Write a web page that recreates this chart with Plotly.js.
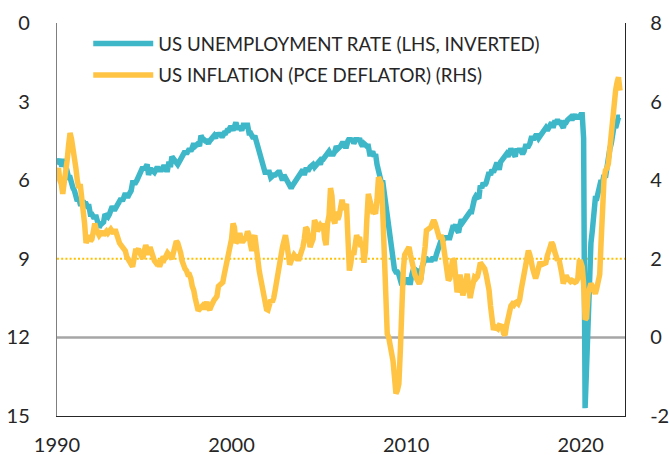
<!DOCTYPE html>
<html>
<head>
<meta charset="utf-8">
<script src="https://cdn.plot.ly/plotly-3.0.1.min.js"></script>
<style>
html,body{margin:0;padding:0;background:#fff;}
#chart{width:669px;height:455px;}
</style>
</head>
<body>
<div id="chart"></div>
<script>
// Monthly data, Jan 1990 .. Apr 2022
const startYear = 1990;
const seriesNames = ["US UNEMPLOYMENT RATE (LHS, INVERTED)", "US INFLATION (PCE DEFLATOR) (RHS)"];
const xTickLabels = ["1990", "2000", "2010", "2020"];
const leftTicks = [0, 3, 6, 9, 12, 15];
const rightTicks = [-2, 0, 2, 4, 6, 8];
const rightTickText = ["-2", "0", "2", "4", "6", "8"];

const unemployment = [
  5.4,5.3,5.2,5.4,5.4,5.2,5.5,5.7,5.9,5.9,6.2,6.3,
  6.4,6.6,6.8,6.7,6.9,6.9,6.8,6.9,6.9,7.0,7.0,7.3,
  7.3,7.4,7.4,7.4,7.6,7.8,7.7,7.6,7.6,7.3,7.4,7.4,
  7.3,7.1,7.0,7.1,7.1,7.0,6.9,6.8,6.7,6.8,6.6,6.5,
  6.6,6.6,6.5,6.4,6.1,6.1,6.1,6.0,5.9,5.8,5.6,5.5,
  5.6,5.4,5.4,5.8,5.6,5.6,5.7,5.7,5.6,5.5,5.6,5.6,
  5.6,5.5,5.5,5.6,5.6,5.3,5.5,5.1,5.2,5.2,5.4,5.4,
  5.3,5.2,5.2,5.1,4.9,5.0,4.9,4.8,4.9,4.7,4.6,4.7,
  4.6,4.6,4.7,4.3,4.4,4.5,4.5,4.5,4.6,4.5,4.4,4.4,
  4.3,4.4,4.2,4.3,4.2,4.3,4.3,4.2,4.2,4.1,4.1,4.0,
  4.0,4.1,4.0,3.8,4.0,4.0,4.0,4.1,3.9,3.9,3.9,3.9,
  4.2,4.2,4.3,4.4,4.3,4.5,4.6,4.9,5.0,5.3,5.5,5.7,
  5.7,5.7,5.7,5.9,5.8,5.8,5.8,5.7,5.7,5.7,5.9,6.0,
  5.8,5.9,5.9,6.0,6.1,6.3,6.2,6.1,6.1,6.0,5.8,5.7,
  5.7,5.6,5.8,5.6,5.6,5.6,5.5,5.4,5.4,5.5,5.4,5.4,
  5.3,5.4,5.2,5.2,5.1,5.0,5.0,4.9,5.0,5.0,5.0,4.9,
  4.7,4.8,4.7,4.7,4.6,4.6,4.7,4.7,4.5,4.4,4.5,4.4,
  4.6,4.5,4.4,4.5,4.4,4.6,4.7,4.6,4.7,4.7,4.7,5.0,
  5.0,4.9,5.1,5.0,5.4,5.6,5.8,6.1,6.1,6.5,6.8,7.3,
  7.8,8.3,8.7,9.0,9.4,9.5,9.5,9.6,9.8,10.0,9.9,9.9,
  9.8,9.8,9.9,9.9,9.6,9.4,9.4,9.5,9.5,9.4,9.8,9.3,
  9.1,9.0,9.0,9.1,9.0,9.1,9.0,9.0,9.0,8.8,8.6,8.5,
  8.3,8.3,8.2,8.2,8.2,8.2,8.2,8.0,7.8,7.8,7.7,7.9,
  8.0,7.7,7.5,7.6,7.5,7.5,7.3,7.2,7.2,7.2,6.9,6.7,
  6.6,6.7,6.7,6.2,6.3,6.1,6.2,6.1,5.9,5.7,5.8,5.6,
  5.7,5.5,5.4,5.4,5.6,5.3,5.2,5.1,5.0,5.0,5.1,5.0,
  4.8,4.9,5.0,5.1,4.8,4.9,4.8,4.9,5.0,4.9,4.7,4.7,
  4.7,4.6,4.4,4.4,4.4,4.3,4.3,4.4,4.3,4.2,4.2,4.1,
  4.0,4.1,4.0,4.0,3.8,4.0,3.8,3.8,3.7,3.8,3.8,3.9,
  4.0,3.8,3.8,3.7,3.6,3.6,3.7,3.6,3.5,3.6,3.6,3.6,
  3.5,3.5,4.4,14.7,13.2,11.0,10.2,8.4,7.9,6.9,6.7,6.7,
  6.4,6.2,6.0,6.1,5.8,5.9,5.4,5.2,4.8,4.6,4.2,3.9,
  4.0,3.8,3.6,3.6
];

const pceInflation = [
  4.2,4.3,4.0,3.9,3.65,3.9,4.1,4.5,4.9,5.2,5.05,4.85,
  4.6,4.3,4.0,3.8,3.9,3.6,3.3,2.9,2.4,2.5,2.6,2.45,
  2.5,2.7,2.9,2.75,2.65,2.6,2.65,2.7,2.6,2.65,2.7,2.65,
  2.7,2.75,2.7,2.65,2.75,2.6,2.5,2.4,2.35,2.3,2.25,2.2,
  2.05,2.0,1.95,1.85,1.8,2.0,2.2,2.2,2.25,2.15,2.05,2.0,
  2.2,2.35,2.25,2.1,2.3,2.15,2.0,1.95,1.9,1.95,1.85,1.85,
  1.95,2.05,2.0,2.1,2.15,2.1,2.05,2.0,2.15,2.3,2.45,2.4,
  2.3,2.15,1.95,1.8,1.75,1.7,1.6,1.6,1.5,1.3,1.2,1.0,
  0.8,0.68,0.72,0.75,0.8,0.72,0.85,0.9,0.75,0.7,0.8,0.9,
  0.95,1.0,1.05,1.3,1.35,1.35,1.4,1.6,1.8,1.9,2.05,2.3,
  2.5,2.9,2.8,2.4,2.45,2.6,2.6,2.4,2.55,2.5,2.55,2.7,
  2.6,2.35,2.2,2.5,2.6,2.3,1.75,1.7,1.5,1.25,1.0,0.8,
  0.72,0.7,0.85,0.95,0.9,1.0,1.2,1.45,1.6,1.8,2.0,2.3,
  2.45,2.6,2.4,1.9,1.85,1.95,2.0,2.1,2.05,2.1,1.95,2.05,
  2.2,2.3,2.5,2.8,2.75,2.55,2.3,2.4,2.5,2.98,2.9,2.7,
  2.75,2.85,2.8,2.9,2.5,2.35,2.9,3.1,3.8,3.6,3.0,2.9,
  3.2,3.0,3.1,3.4,3.5,3.3,3.3,3.4,2.4,1.7,1.9,2.2,
  2.1,2.5,2.6,2.5,2.55,2.3,2.4,1.9,2.2,3.0,3.65,3.5,
  3.3,3.2,3.2,3.15,3.5,4.08,4.0,3.9,3.1,1.8,0.6,0.09,
  0.0,-0.16,-0.3,-0.6,-1.0,-1.43,-1.35,-1.18,-0.33,1.2,1.7,2.1,
  2.2,2.3,2.3,2.1,1.9,1.7,1.6,1.5,1.4,1.37,1.45,1.7,
  1.9,2.3,2.72,2.75,2.8,2.8,2.9,2.98,2.9,2.7,2.64,2.5,
  2.6,2.5,2.2,2.0,1.7,1.45,1.5,1.75,2.0,1.95,1.5,1.15,
  1.3,1.6,1.35,1.07,1.2,1.4,1.62,1.3,1.0,1.2,1.5,1.53,
  1.5,1.55,1.7,1.9,1.85,1.8,1.75,1.6,1.4,1.2,0.8,0.3,
  0.19,0.27,0.25,0.22,0.3,0.3,0.28,0.1,0.06,0.3,0.5,0.77,
  0.8,0.85,0.82,0.88,0.9,0.86,0.95,1.2,1.45,1.6,1.79,1.95,
  2.21,2.1,1.79,1.75,1.62,1.5,1.62,1.75,1.92,1.85,1.87,1.9,
  1.9,2.08,2.15,2.3,2.42,2.35,2.2,2.1,1.96,2.0,1.85,1.62,
  1.37,1.45,1.58,1.5,1.45,1.42,1.45,1.41,1.4,1.42,1.5,1.92,
  1.92,1.8,1.37,0.45,0.5,1.1,1.25,1.37,1.3,1.15,1.11,1.25,
  1.45,1.6,2.4,3.5,4.0,4.25,4.3,4.42,4.8,5.4,5.8,6.1,
  6.3,6.5,6.62,6.28
];

function monthDates(n) {
  const out = [];
  for (let i = 0; i < n; i++) {
    const y = startYear + Math.floor(i / 12);
    const m = (i % 12) + 1;
    out.push(y + "-" + (m < 10 ? "0" + m : m) + "-01");
  }
  return out;
}
const dates = monthDates(unemployment.length);

const TEAL = "#3EB8C9";
const GOLD = "#FFC444";
const FONT = "Lato, 'Open Sans', sans-serif";

const traces = [
  {x: dates, y: unemployment, yaxis: "y", type: "scatter", mode: "lines",
   name: seriesNames[0], legendgroup: "a", line: {color: TEAL, width: 5.5}},
  {x: dates, y: pceInflation, yaxis: "y2", type: "scatter", mode: "lines",
   name: seriesNames[1], legendgroup: "b", line: {color: GOLD, width: 5.5}}
];

const layout = {
  width: 669, height: 455,
  margin: {l: 57, r: 44, t: 23, b: 39, pad: 0},
  paper_bgcolor: "#fff", plot_bgcolor: "#fff",
  font: {family: FONT, size: 20, color: "#262626"},
  showlegend: true,
  legend: {x: 0.055, y: 0.995, xanchor: "left", yanchor: "top",
           bgcolor: "rgba(0,0,0,0)", font: {family: FONT, size: 18.7, color: "#262626"},
           itemwidth: 60, traceorder: "grouped", tracegroupgap: 4},
  xaxis: {type: "date", range: ["1990-01-01", "2022-07-15"],
          tickvals: xTickLabels.map(s => s + "-01-01"), ticktext: xTickLabels,
          ticks: "", showgrid: false, zeroline: false,
          showline: true, linecolor: "#262626", linewidth: 1.2,
          ticklabelstandoff: 11, tickfont: {size: 20}},
  yaxis: {range: [15, 0], tickvals: leftTicks, ticks: "", showgrid: false, zeroline: false,
          showline: true, linecolor: "#7f7f7f", linewidth: 1.2,
          ticklabelstandoff: 22, tickfont: {size: 20}},
  yaxis2: {range: [-2, 8], tickvals: rightTicks, ticktext: rightTickText,
           overlaying: "y", side: "right",
           ticks: "", showgrid: false, zeroline: false,
           showline: true, linecolor: "#262626", linewidth: 1.2,
           ticklabelstandoff: 20, tickfont: {size: 20}},
  shapes: [
    {type: "line", xref: "paper", x0: 0, x1: 1, yref: "y2", y0: 0, y1: 0,
     line: {color: "#A6A6A6", width: 2.5}, layer: "below"},
    {type: "line", xref: "paper", x0: 0, x1: 1, yref: "y2", y0: 2, y1: 2,
     line: {color: "#FFC000", width: 2, dash: "2px,2.2px"}, layer: "below"}
  ]
};

Plotly.newPlot("chart", traces, layout, {displayModeBar: false, staticPlot: true});
</script>
</body>
</html>
